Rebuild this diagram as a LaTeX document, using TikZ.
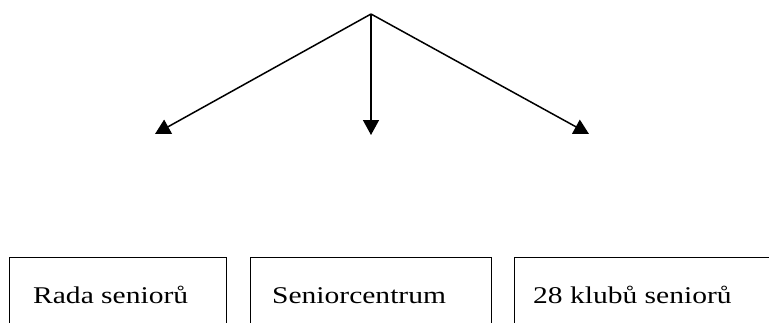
\documentclass[tikz,border=0pt]{standalone}
\usepackage{fontspec}
\setmainfont{Liberation Serif}
\usetikzlibrary{arrows.meta}
\tikzset{
  orgbox/.style={draw=black, line width=1.4pt, inner sep=0pt, anchor=north west, minimum height=120pt},
  lbl/.style={inner sep=0pt, anchor=base west, font=\fontsize{24}{28}\selectfont},
  arr/.style={line width=1.5pt, -{Triangle[length=15pt,width=16pt]}}
}
\begin{document}
\begin{tikzpicture}[x=1pt,y=-1pt]
\useasboundingbox (0,0) rectangle (769,322);
\clip (0,0) rectangle (769,322);
\node[orgbox, minimum width=217pt] (b1) at (9,257) {};
\node[orgbox, minimum width=241pt] (b2) at (250,257) {};
\node[orgbox, minimum width=300pt] (b3) at (514,257) {};
\node[lbl] (t1) at (33,303) {\scalebox{1.23}[1]{Rada seniorů}};
\node[lbl] (t2) at (272,303) {\scalebox{1.23}[1]{Seniorcentrum}};
\node[lbl] (t3) at (533,303) {\scalebox{1.23}[1]{28 klubů seniorů}};
\coordinate (apex) at (371,14);
\coordinate (tl) at (155,134);
\coordinate (tm) at (371,135);
\coordinate (tr) at (589,134);
\draw[arr] (apex) -- (tl);
\draw[arr] (apex) -- (tm);
\draw[arr] (apex) -- (tr);
\end{tikzpicture}
\end{document}
